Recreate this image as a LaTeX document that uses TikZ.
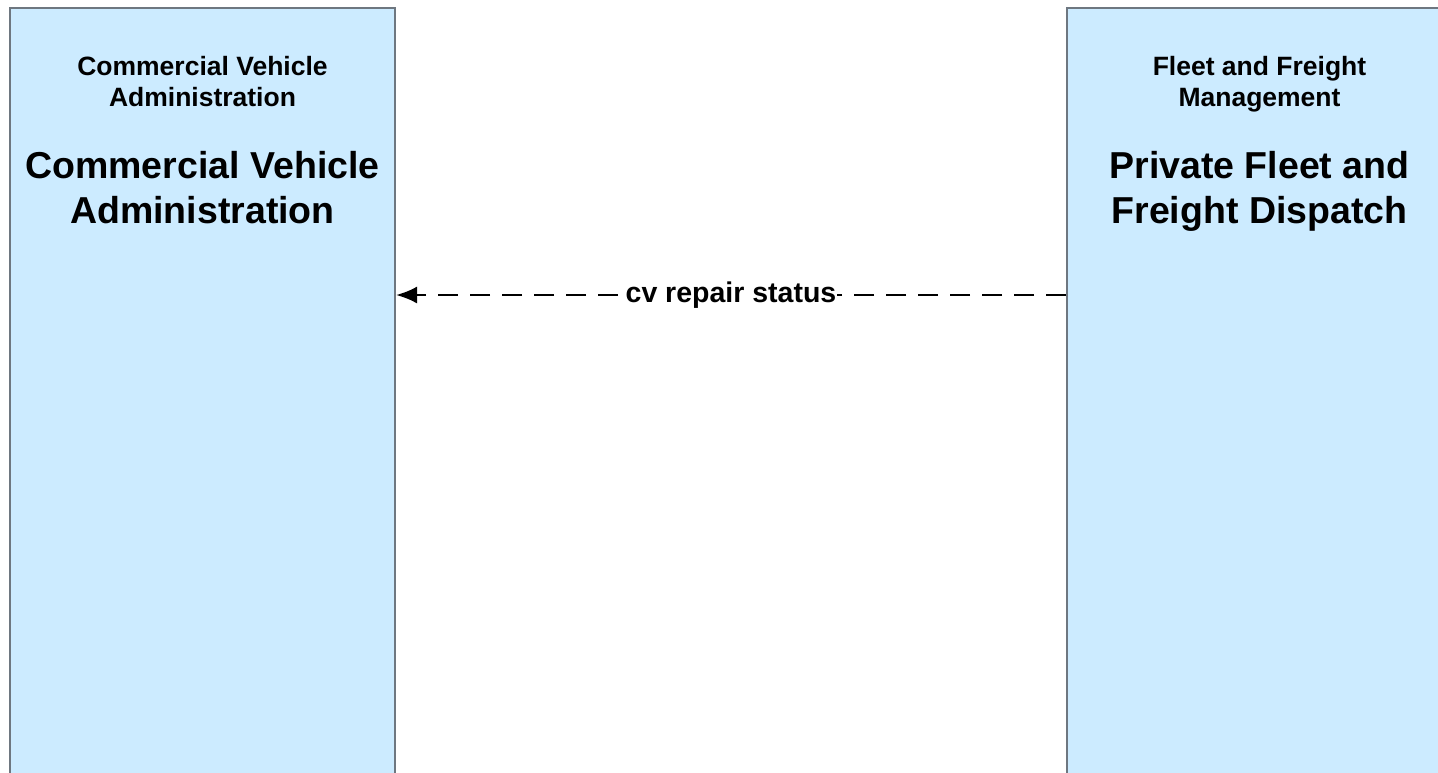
\documentclass[tikz,border=0pt]{standalone}
\usepackage{fontspec}
\setmainfont{Liberation Sans}
\usetikzlibrary{arrows.meta,calc,positioning}
\definecolor{BoxFill}{HTML}{CCEBFF}
\definecolor{BoxLine}{HTML}{6E7780}

\begin{document}
\begin{tikzpicture}[x=1pt,y=-1pt,
  entity/.style={draw=BoxLine,line width=2pt,fill=BoxFill,anchor=north west,
    minimum width=385pt,minimum height=820pt,inner sep=0pt},
  owner/.style={font=\fontsize{26.5}{31}\selectfont\bfseries,align=center,inner sep=0pt,anchor=base},
  title/.style={font=\fontsize{37.5}{45}\selectfont\bfseries,align=center,inner sep=0pt,anchor=base},
  flow/.style={line width=2.5pt,dash pattern=on 20pt off 12pt,-{Latex[length=21pt,width=17pt]}},
  flowlabel/.style={font=\fontsize{28.5}{34}\selectfont\bfseries,fill=white,inner sep=0.5pt}]
\useasboundingbox (0,0) rectangle (1438,772);
\clip (0,0) rectangle (1438,772);

\node[entity] (cva) at (9,7) {};
\node[entity] (fpd) at (1066,7) {};

\node[owner] (cvaown) at ($(cva.north)+(0,99)$) {Commercial Vehicle\\Administration};
\node[title] (cvaname) at ($(cva.north)+(0,216)$) {Commercial Vehicle\\Administration};

\node[owner] (fpdown) at ($(fpd.north)+(0,99)$) {Fleet and Freight\\Management};
\node[title] (fpdname) at ($(fpd.north)+(0,216)$) {Private Fleet and\\Freight Dispatch};

\coordinate (lvl) at (0,295);
\draw[flow] (fpd.west |- lvl) -- node[flowlabel] (repair) {cv repair status} (cva.east |- lvl);

\end{tikzpicture}
\end{document}
